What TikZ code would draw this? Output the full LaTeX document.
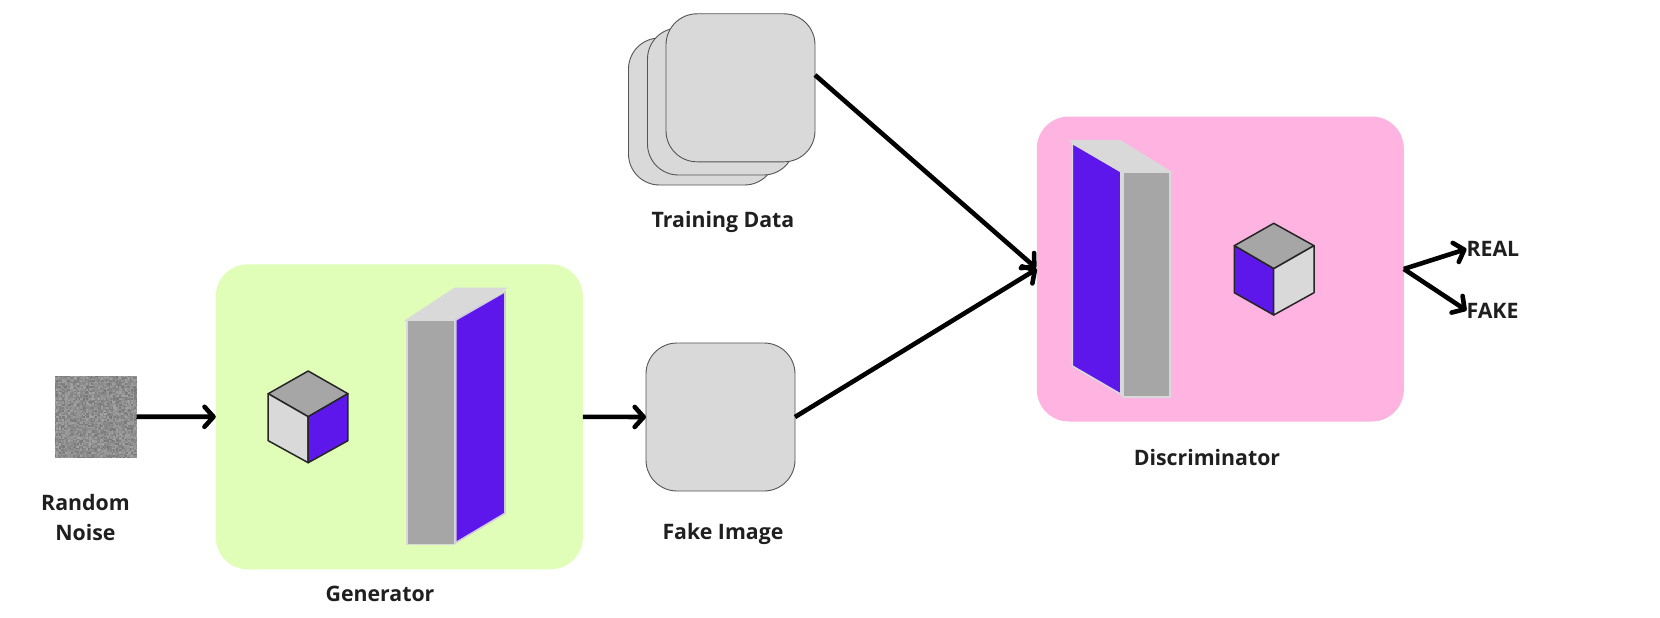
\documentclass[tikz,border=0pt]{standalone}
\usepackage{fontspec}
\setmainfont{Open Sans}
\usetikzlibrary{arrows.meta}
\definecolor{genbg}{HTML}{E1FEB8}
\definecolor{discbg}{HTML}{FEB3E0}
\definecolor{vio}{HTML}{5E17EB}
\definecolor{gmid}{HTML}{A6A6A6}
\definecolor{glight}{HTML}{D9D9D9}
\definecolor{edge}{HTML}{555555}
\definecolor{halo}{HTML}{CFCBDD}
\tikzset{
  panel/.style={draw=none,rounded corners=32,minimum width=#1,minimum height=305,inner sep=0,outer sep=0},
  card/.style={draw=edge,line width=0.9,fill=glight,rounded corners=31,inner sep=0,outer sep=0},
  lab/.style={font=\bfseries\fontsize{21.3}{30}\selectfont,text=black!88,align=center,inner sep=0,outer sep=0},
  conn/.style={line width=4.6,line cap=butt,-{Straight Barb[length=9,width=20,line width=4.6,round]}},
  cubeface/.style={draw=black!85,line width=1.5,line join=round},
  slabface/.style={draw=halo,line width=1.6,line join=miter}
}
\begin{document}
\begin{tikzpicture}[x=1pt,y=-1pt]
\useasboundingbox (0,0) rectangle (1660,618);
\fill[white] (0,0) rectangle (1660,618);
% noise
\node[fill=gray!85!black,minimum width=82,minimum height=82,inner sep=0,outer sep=0] (noise) at (95.5,416.7) {};
\pgfmathsetseed{7}
\foreach \i in {0,...,54}{\foreach \j in {0,...,54}{
  \pgfmathsetmacro{\g}{int(36+18*rnd)}
  \fill[black!\g] (54.5+1.5*\i,375.7+1.5*\j) rectangle ++(1.5,1.5);
}}
% panels
\node[panel=367,fill=genbg] (gen) at (399.3,416.8) {};
\node[panel=367,fill=discbg] (disc) at (1220.3,269) {};
% training stack
\node[card,minimum width=147,minimum height=147] (tr3) at (702,111.5) {};
\node[card,minimum width=147,minimum height=147] (tr2) at (721,101.5) {};
\node[card,minimum width=149,minimum height=148] (train) at (740.5,87.8) {};
% fake image
\node[card,minimum width=149,minimum height=148] (fake) at (720.5,417) {};
% generator cube
\draw[cubeface,fill=gmid] (308.2,371)--(347.9,393.7)--(308.2,416.7)--(268.2,393.7)--cycle;
\draw[cubeface,fill=glight] (268.2,393.7)--(308.2,416.7)--(308.2,462.7)--(268.2,440.7)--cycle;
\draw[cubeface,fill=vio] (308.2,416.7)--(347.9,393.7)--(347.9,440.7)--(308.2,462.7)--cycle;
% generator slab
\draw[slabface,fill=glight,draw=glight] (406.8,320)--(455,288.3)--(505.7,288.3)--(455,320)--cycle;
\draw[slabface,fill=gmid,draw=glight] (406.8,320) rectangle (454.3,544.3);
\draw[slabface,fill=vio] (455.7,320)--(505,291.7)--(505,513.3)--(455.7,542.7)--cycle;
% discriminator slab
\draw[slabface,fill=glight,draw=glight] (1071,140.7)--(1120,140.7)--(1170,171.7)--(1121.7,171.7)--cycle;
\draw[slabface,fill=vio,draw=glight] (1072.3,143.3)--(1121,171.7)--(1121,394.3)--(1072.3,366)--cycle;
\draw[slabface,fill=gmid,draw=glight] (1123,172.3) rectangle (1170,396.7);
% discriminator cube
\draw[cubeface,fill=gmid] (1273.7,223.3)--(1314,245.7)--(1273.7,268.7)--(1234.3,245.7)--cycle;
\draw[cubeface,fill=vio] (1234.3,245.7)--(1273.7,268.7)--(1273.7,315)--(1234.3,292.7)--cycle;
\draw[cubeface,fill=glight] (1273.7,268.7)--(1314,245.7)--(1314,292.7)--(1273.7,315)--cycle;
% labels
\node[lab] (lnoise) at (85.5,518) {Random\\Noise};
\node[lab] (lgen) at (380,594) {Generator};
\node[lab] (ltrain) at (723,222) {Training Data};
\node[lab] (lfake) at (723,534) {Fake Image};
\node[lab] (ldisc) at (1207,458) {Discriminator};
\node[lab,anchor=west] (real) at (1466.5,249) {REAL};
\node[lab,anchor=west] (fakeout) at (1466.5,310.5) {FAKE};
% connectors
\coordinate (tstart) at (815,75);
\coordinate (tend) at (1036,268);
\draw[conn] (noise.east) -- (gen.west);
\draw[conn] (gen.east) -- (fake.west);
\draw[conn] (tstart) -- (tend);
\draw[conn] (fake.east) -- (disc.west);
\draw[conn] (disc.east) -- (real.west);
\draw[conn] (disc.east) -- (fakeout.west);
\end{tikzpicture}
\end{document}
